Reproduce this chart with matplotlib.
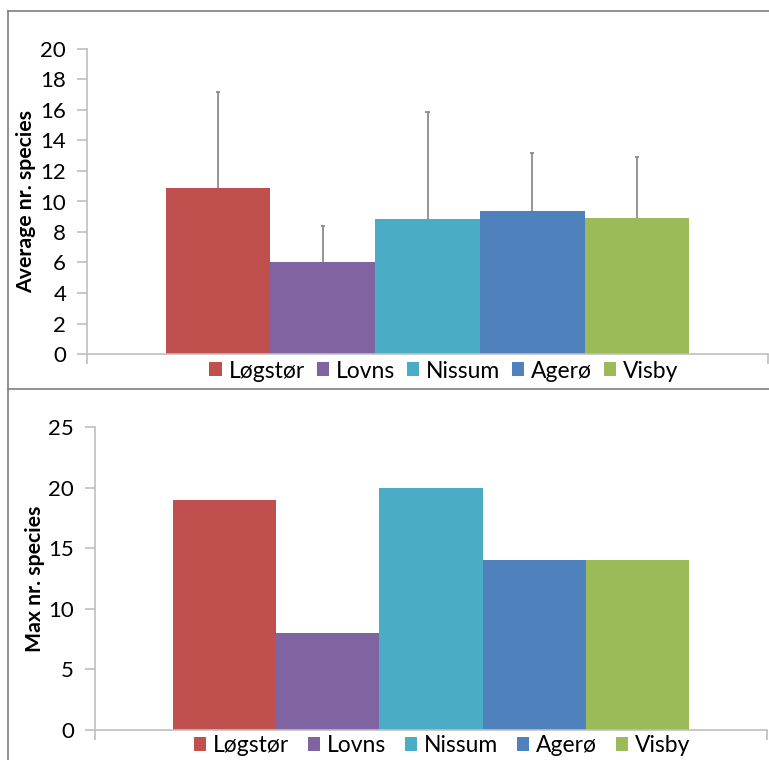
import matplotlib
matplotlib.use("Agg")
import matplotlib.pyplot as plt
from matplotlib.patches import Patch
from matplotlib.lines import Line2D
import numpy as np

sites = ["Løgstør", "Lovns", "Nissum", "Agerø", "Visby"]
colors = ["#C0504D", "#8064A2", "#4BACC6", "#4F81BD", "#9BBB59"]
avg_species = [10.9, 6.0, 8.85, 9.35, 8.9]
avg_err_plus = [6.3, 2.4, 7.05, 3.8, 4.0]
max_species = [19, 8, 20, 14, 14]

plt.rcParams['font.family'] = ['Lato', 'DejaVu Sans']
W, H = 769, 760
fig = plt.figure(figsize=(W / 100, H / 100), dpi=100)

def px_axes(l, t, r, b):
    return [l / W, 1 - b / H, (r - l) / W, (b - t) / H]

axis_col = "#BFBFBF"
gap = 0.75

def style(ax, ylim, yticks, label, label_x):
    ax.set_xlim(-0.5 - gap, len(sites) - 0.5 + gap)
    ax.set_ylim(*ylim)
    ax.set_yticks(yticks)
    ax.set_xticks([-0.5 - gap, len(sites) - 0.5 + gap])
    ax.set_xticklabels([])
    for s in ["top", "right"]:
        ax.spines[s].set_visible(False)
    for s in ["left", "bottom"]:
        ax.spines[s].set_color(axis_col)
        ax.spines[s].set_linewidth(1.2)
    ax.tick_params(axis="y", direction="out", length=7, width=1.2, color=axis_col,
                   labelsize=16, labelcolor="#000000", pad=8)
    ax.tick_params(axis="x", direction="out", length=7, width=1.2, color=axis_col)
    ax.set_ylabel(label, fontsize=15.3, fontweight="bold")
    ax.yaxis.set_label_coords(label_x, 0.5)
    ax.patch.set_alpha(0)

x = np.arange(len(sites))

# top panel
ax1 = fig.add_axes(px_axes(87, 49, 768, 354))
ax1.bar(x, avg_species, width=1.0, color=colors, zorder=2)
tops = np.array(avg_species) + np.array(avg_err_plus)
ax1.vlines(x, avg_species, tops, color="#8C8C8C", lw=1.3, zorder=1)
ax1.hlines(tops, x - 0.02, x + 0.02, color="#8C8C8C", lw=1.3, zorder=1)
style(ax1, (0, 20), range(0, 21, 2), "Average nr. species", -0.075)

# bottom panel
ax2 = fig.add_axes(px_axes(95, 427, 767, 730))
ax2.bar(x, max_species, width=1.0, color=colors, zorder=2)
style(ax2, (0, 25), range(0, 26, 5), "Max nr. species", -0.074)

handles = [Patch(facecolor=c, edgecolor="none") for c in colors]
fig.legend(handles, sites, loc="center", bbox_to_anchor=(444 / W, 1 - 371 / H),
           ncol=5, frameon=False, fontsize=16.5, handlelength=0.55, handleheight=0.55,
           handletextpad=0.3, columnspacing=0.5, borderpad=0)
fig.legend(handles, sites, loc="center", bbox_to_anchor=(442 / W, 1 - 746 / H),
           ncol=5, frameon=False, fontsize=16.5, handlelength=0.55, handleheight=0.55,
           handletextpad=0.3, columnspacing=0.8, borderpad=0)

# panel borders
bc = "#7F7F7F"
fig.add_artist(Line2D([8 / W, 1], [1 - 11 / H, 1 - 11 / H], color=bc, lw=1.2))
fig.add_artist(Line2D([8 / W, 1], [1 - 389 / H, 1 - 389 / H], color=bc, lw=1.2))
fig.add_artist(Line2D([8 / W, 8 / W], [1 - 11 / H, 0], color=bc, lw=1.2))

fig.savefig("out.png", dpi=100, facecolor="white")
